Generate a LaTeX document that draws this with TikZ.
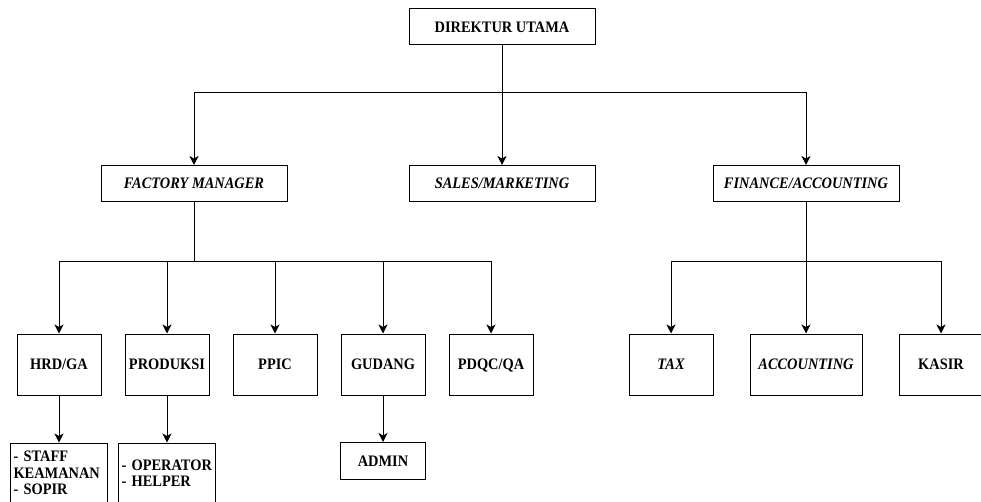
\documentclass[tikz,border=0pt]{standalone}
\usepackage{fontspec}
\setmainfont{Liberation Serif}[FakeStretch=0.9]
\usetikzlibrary{arrows.meta}
\newcommand\mynohyph{\hyphenpenalty=10000\relax\exhyphenpenalty=10000\relax}
\begin{document}
\begin{tikzpicture}[x=1pt,y=-1pt,
  box/.style={draw=black,line width=1pt,fill=white,inner sep=0pt,align=center,
    text height=13.6pt,text depth=3pt,
    font=\fontsize{16}{16.5}\selectfont\bfseries},
  ibox/.style={box,font=\fontsize{16}{16.5}\selectfont\bfseries\itshape},
  wide/.style={minimum width=186pt,minimum height=36pt},
  unit/.style={minimum width=84pt,minimum height=61pt},
  listbox/.style={draw=black,line width=1pt,fill=white,inner ysep=0pt,inner xsep=3pt,
    text width=91pt,minimum height=60pt,align=left,
    font=\fontsize{16}{16.3}\selectfont\bfseries\mynohyph},
  arr/.style={draw=black,line width=1pt,-{Stealth[length=9pt,width=9pt,inset=2.5pt]}}]
\useasboundingbox (0,0) rectangle (981,502);
\coordinate (b1) at (0,93);
\coordinate (b2) at (0,262);

\node[box,wide] (dir) at (502,27) {DIREKTUR UTAMA};

\node[ibox,wide] (fm) at (194,183.5) {FACTORY MANAGER};
\node[ibox,wide] (sm) at (502,183.5) {SALES/MARKETING};
\node[ibox,wide] (fa) at (806,183.5) {FINANCE/ACCOUNTING};

\node[box,unit] (hrd) at (59,364.5) {HRD/GA};
\node[box,unit] (prod) at (167,364.5) {PRODUKSI};
\node[box,unit] (ppic) at (275,364.5) {PPIC};
\node[box,unit] (gud) at (383,364.5) {GUDANG};
\node[box,unit] (pdqc) at (491,364.5) {PDQC/QA};

\node[ibox,unit] (tax) at (671,364.5) {TAX};
\node[ibox,unit,minimum width=112pt] (acc) at (806,364.5) {ACCOUNTING};
\node[box,unit] (kas) at (941,364.5) {KASIR};

\node[listbox] (staff) at (59,473) {- STAFF\\KEAMANAN\\- SOPIR};
\node[listbox] (oper) at (167,473) {- OPERATOR\\- HELPER};
\node[box,minimum width=85pt,minimum height=37pt] (adm) at (383,461) {ADMIN};

\draw[arr] (dir.south) -- (dir.south |- b1) -| (fm.north);
\draw[arr] (dir.south) -- (sm.north);
\draw[arr] (dir.south) -- (dir.south |- b1) -| (fa.north);

\draw[arr] (fm.south) -- (fm.south |- b2) -| (hrd.north);
\draw[arr] (fm.south) -- (fm.south |- b2) -| (prod.north);
\draw[arr] (fm.south) -- (fm.south |- b2) -| (ppic.north);
\draw[arr] (fm.south) -- (fm.south |- b2) -| (gud.north);
\draw[arr] (fm.south) -- (fm.south |- b2) -| (pdqc.north);

\draw[arr] (fa.south) -- (fa.south |- b2) -| (tax.north);
\draw[arr] (fa.south) -- (acc.north);
\draw[arr] (fa.south) -- (fa.south |- b2) -| (kas.north);

\draw[arr] (hrd.south) -- (staff.north);
\draw[arr] (prod.south) -- (oper.north);
\draw[arr] (gud.south) -- (adm.north);
\end{tikzpicture}
\end{document}
